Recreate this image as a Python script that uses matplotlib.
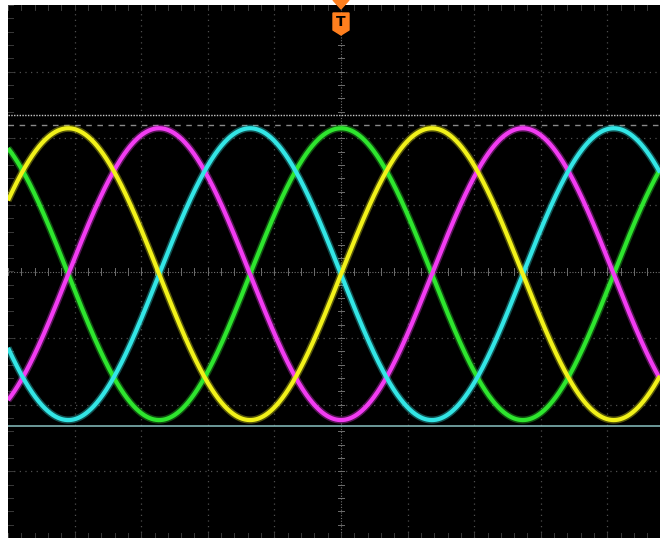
import matplotlib.pyplot as plt
from matplotlib.patches import Polygon
import numpy as np

# channel data (divisions)
channels = ['CH1', 'CH2', 'CH3', 'CH4']
colors = ['#f2f21a', '#f23cf2', '#33e6e6', '#2ee62e']
amplitude = [2.19, 2.19, 2.19, 2.19]
offset = [-0.04, -0.04, -0.04, -0.04]
phase_deg = [-90, 180, 90, 0]
period = 5.46

# cursor levels
upper_cursor = 2.35
dashed_level = 2.20
lower_level = -2.32

x_div = (-5, -5 + 652 / 66.6)
y_div = (-4, 4)

fig = plt.figure(figsize=(6.6, 5.38), dpi=100, facecolor='white')
ax = fig.add_axes([8 / 660, 0, 652 / 660, 533 / 538])
ax.set_facecolor('black')
ax.set_xlim(x_div)
ax.set_ylim(y_div)
ax.set_xticks([])
ax.set_yticks([])
for s in ax.spines.values():
    s.set_visible(False)

grid_col = '#4e4e4e'
for gx in range(-4, 5):
    if gx != 0:
        ax.axvline(gx, color=grid_col, lw=0.9, ls=(0, (1, 3.5)), zorder=1)
for gy in range(-3, 4):
    if gy != 0:
        ax.axhline(gy, color=grid_col, lw=0.9, ls=(0, (1, 3.5)), zorder=1)

# center cross with minor ticks
cross_col = '#6e6e6e'
ax.axhline(0, color=cross_col, lw=0.8, ls=(0, (1, 1.5)), zorder=1)
ax.axvline(0, color=cross_col, lw=0.8, ls=(0, (1, 1.5)), zorder=1)
minor = np.arange(-5, 5.01, 0.2)
for m in minor:
    ax.plot([m, m], [-0.05, 0.05], color=cross_col, lw=0.7, zorder=1)
for m in np.arange(-4, 4.01, 0.2):
    ax.plot([-0.05, 0.05], [m, m], color=cross_col, lw=0.7, zorder=1)
# border ticks
border_col = '#3a3a3a'
for m in minor:
    ax.plot([m, m], [3.92, 4.0], color=border_col, lw=0.7, zorder=1)
    ax.plot([m, m], [-4.0, -3.92], color=border_col, lw=0.7, zorder=1)
for m in np.arange(-4, 4.01, 0.2):
    ax.plot([-5, -4.92], [m, m], color=border_col, lw=0.7, zorder=1)

t = np.linspace(x_div[0], x_div[1], 3000)
order = [3, 1, 2, 0]
for i in order:
    y = offset[i] + amplitude[i] * np.cos(2 * np.pi * t / period + np.deg2rad(phase_deg[i]))
    ax.plot(t, y, color=colors[i], lw=5.2, alpha=0.35, zorder=3, solid_capstyle='butt')
    ax.plot(t, y, color=colors[i], lw=3.0, zorder=4, solid_capstyle='butt')

ax.axhline(upper_cursor, color='#c8c8c8', lw=1.0, ls=(0, (1, 1)), zorder=5)
ax.axhline(dashed_level, color='#8a8a8a', lw=1.0, ls=(0, (4, 4)), zorder=2)
ax.axhline(lower_level, color='#7fb2b2', lw=1.2, zorder=5)

# trigger marker
orange = '#ff7f1e'
tri = Polygon([[333 / 660, 1], [349 / 660, 1], [341 / 660, 1 - 9 / 538]],
              closed=True, transform=fig.transFigure, color=orange, zorder=10)
fig.patches.append(tri)
badge = Polygon([[333 / 660, 1 - 13 / 538], [349 / 660, 1 - 13 / 538],
                 [349 / 660, 1 - 30 / 538], [341 / 660, 1 - 35 / 538],
                 [333 / 660, 1 - 30 / 538]],
                closed=True, transform=fig.transFigure, color=orange, zorder=10)
fig.patches.append(badge)
fig.text(341 / 660, 1 - 22 / 538, 'T', color='black', fontsize=10, fontweight='bold',
         ha='center', va='center', zorder=11)

fig.savefig('out.png', dpi=100, facecolor='white')
